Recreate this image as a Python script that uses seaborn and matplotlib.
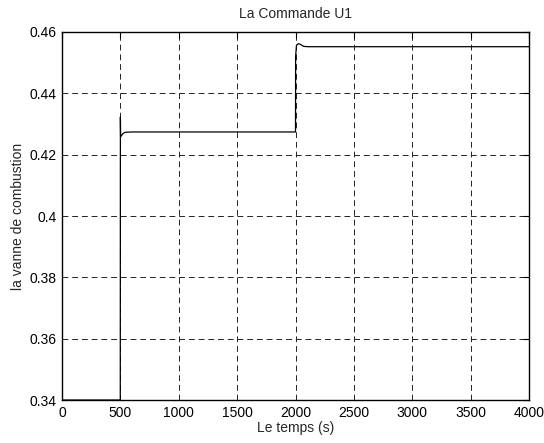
import matplotlib
matplotlib.use("Agg")
import matplotlib.pyplot as plt
import seaborn as sns
import pandas as pd

# Control signal U1 (combustion valve) over time
temps = [0, 499, 500, 502, 520, 540, 600, 2000, 2001, 2008, 2025, 2040, 2070, 2110, 4000]
vanne = [0.34, 0.34, 0.4323, 0.4258, 0.4268, 0.4273, 0.4274, 0.4274, 0.4520, 0.4556, 0.4562, 0.4560, 0.4553, 0.4552, 0.4552]

x_ticks = [0, 500, 1000, 1500, 2000, 2500, 3000, 3500, 4000]
y_ticks = [0.34, 0.36, 0.38, 0.40, 0.42, 0.44, 0.46]
y_labels = ["0.34", "0.36", "0.38", "0.4", "0.42", "0.44", "0.46"]

df = pd.DataFrame({"temps": temps, "vanne": vanne})

sns.set_style("white")
plt.rcParams["font.family"] = ["Liberation Sans", "DejaVu Sans"]

fig = plt.figure(figsize=(5.44, 4.43), dpi=100)
ax = fig.add_axes([0.114, 0.097, 0.8584, 0.8308])

sns.lineplot(data=df, x="temps", y="vanne", ax=ax, color="black",
             linewidth=0.9, estimator=None, sort=False)

ax.set_xlim(0, 4000)
ax.set_ylim(0.34, 0.46)
ax.set_xticks(x_ticks)
ax.set_xticklabels([str(v) for v in x_ticks])
ax.set_yticks(y_ticks)
ax.set_yticklabels(y_labels)

ax.grid(True, color="#222222", linestyle=(0, (6, 4)), linewidth=0.7)
for s in ax.spines.values():
    s.set_color("black")
    s.set_linewidth(1.0)
ax.tick_params(direction="in", length=4, width=0.8, labelsize=10,
               colors="black", top=True, right=True, pad=4)

ax.set_title("La Commande U1", fontsize=10, pad=10)
ax.set_xlabel("Le temps (s)", fontsize=10, labelpad=1)
ax.set_ylabel("la vanne de combustion", fontsize=10, labelpad=3)

fig.savefig("out.png", dpi=100)
